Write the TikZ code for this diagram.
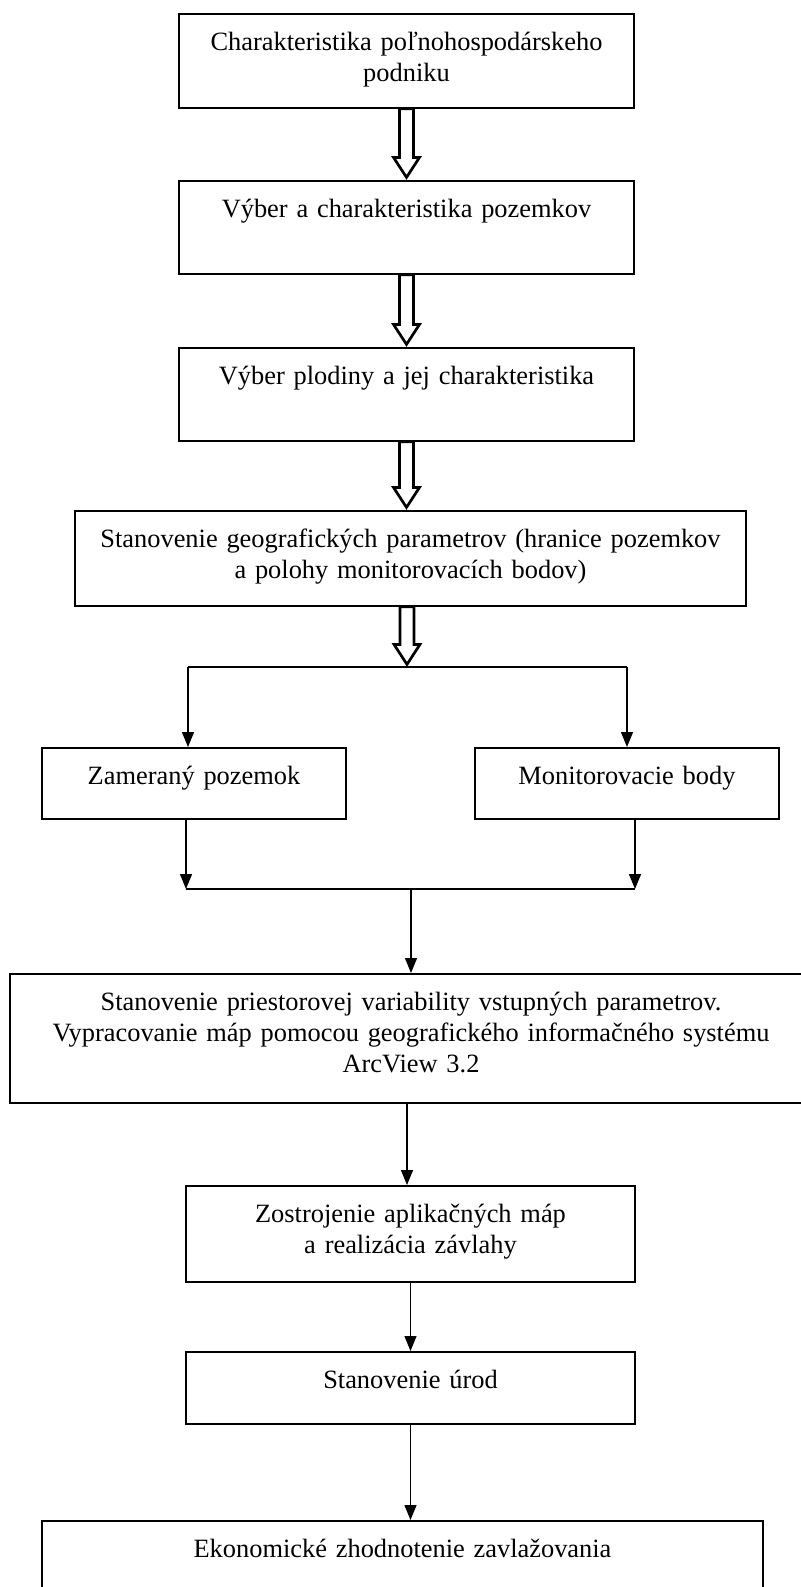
\documentclass[tikz,border=0pt]{standalone}
\usepackage{fontspec}
\setmainfont{Liberation Serif}
\usetikzlibrary{arrows.meta,calc}

\begin{document}
\begin{tikzpicture}[x=0.5pt, y=-0.5pt,
    box/.style 2 args = {draw, line width=0.85pt, anchor=north, align=center,
        inner xsep=2pt, inner ysep=0pt, text width=#1, text height=18.5pt, text depth=#2,
        font=\fontsize{13.2}{15.5}\selectfont},
    link/.style = {line width=0.65pt},
    >={Triangle[length=7.5pt, width=6pt]},
    hollow/.style = {line width=1.35pt, to path={
        let \p1=(\tikztostart), \p2=(\tikztotarget) in
        (\x1-3.5pt,\y1) -- (\x1-3.5pt,\y2+11.3pt) -- (\x1-6.5pt,\y2+11.3pt) -- (\x1,\y2+1.3pt)
        -- (\x1+6.5pt,\y2+11.3pt) -- (\x1+3.5pt,\y2+11.3pt) -- (\x1+3.5pt,\y1) -- cycle}}]
    \useasboundingbox (0,0) rectangle (801,1587);

    \node[box={223.5pt}{28.5pt}] (b1) at (406.5,13) {Charakteristika poľnohospodárskeho\\ podniku};
    \node[box={223.5pt}{28pt}] (b2) at (406.5,180) {Výber a charakteristika pozemkov};
    \node[box={223.5pt}{28pt}] (b3) at (406.5,347) {Výber plodiny a jej charakteristika};
    \node[box={331.5pt}{29pt}] (b4) at (410.5,510) {Stanovenie geografických parametrov (hranice pozemkov\\ a polohy monitorovacích bodov)};
    \node[box={148pt}{17pt}] (b5) at (194,747) {Zameraný pozemok};
    \node[box={148pt}{17pt}] (b6) at (627,747) {Monitorovacie body};
    \node[box={397pt}{46pt}] (b7) at (411,973) {Stanovenie priestorovej variability vstupných parametrov.\\ Vypracovanie máp pomocou geografického informačného systému\\ ArcView 3.2};
    \node[box={220.5pt}{29.5pt}] (b8) at (410.5,1185) {Zostrojenie aplikačných máp\\ a realizácia závlahy};
    \node[box={220.5pt}{17.5pt}] (b9) at (410.5,1351) {Stanovenie úrod};
    \node[box={356.5pt}{21.5pt}] (b10) at (402.5,1520) {Ekonomické zhodnotenie zavlažovania};

    \coordinate (split) at (407,667);
    \coordinate (sl) at (188,667);
    \coordinate (sr) at (627,667);
    \coordinate (jl) at (186,889);
    \coordinate (jr) at (635,889);
    \coordinate (jm) at (411,889);
    \coordinate (m7) at (407,1140);

    % hrube duté šípky
    \draw[hollow] (b1.south) to (b2.north);
    \draw[hollow] (b2.south) to (b3.north);
    \draw[hollow] (b3.south) to (b4.north);
    \draw[hollow] (b4.south -| split) to (split);

    % rozvetvenie
    \draw[link] (sl) -- (sr);
    \draw[link,->] (sl) -- (sl |- b5.north);
    \draw[link,->] (sr) -- (sr |- b6.north);
    \draw[link,->] (b5.south -| jl) -- (jl);
    \draw[link,->] (b6.south -| jr) -- (jr);
    \draw[link] (jl) -- (jr);
    \draw[link,->] (jm) -- (jm |- b7.north);

    \draw[link,->] (b7.south -| m7) -- (m7 |- b8.north);
    \draw[link,->] (b8.south) -- (b8.south |- b9.north);
    \draw[link,->] (b9.south) -- (b9.south |- b10.north);
\end{tikzpicture}
\end{document}
